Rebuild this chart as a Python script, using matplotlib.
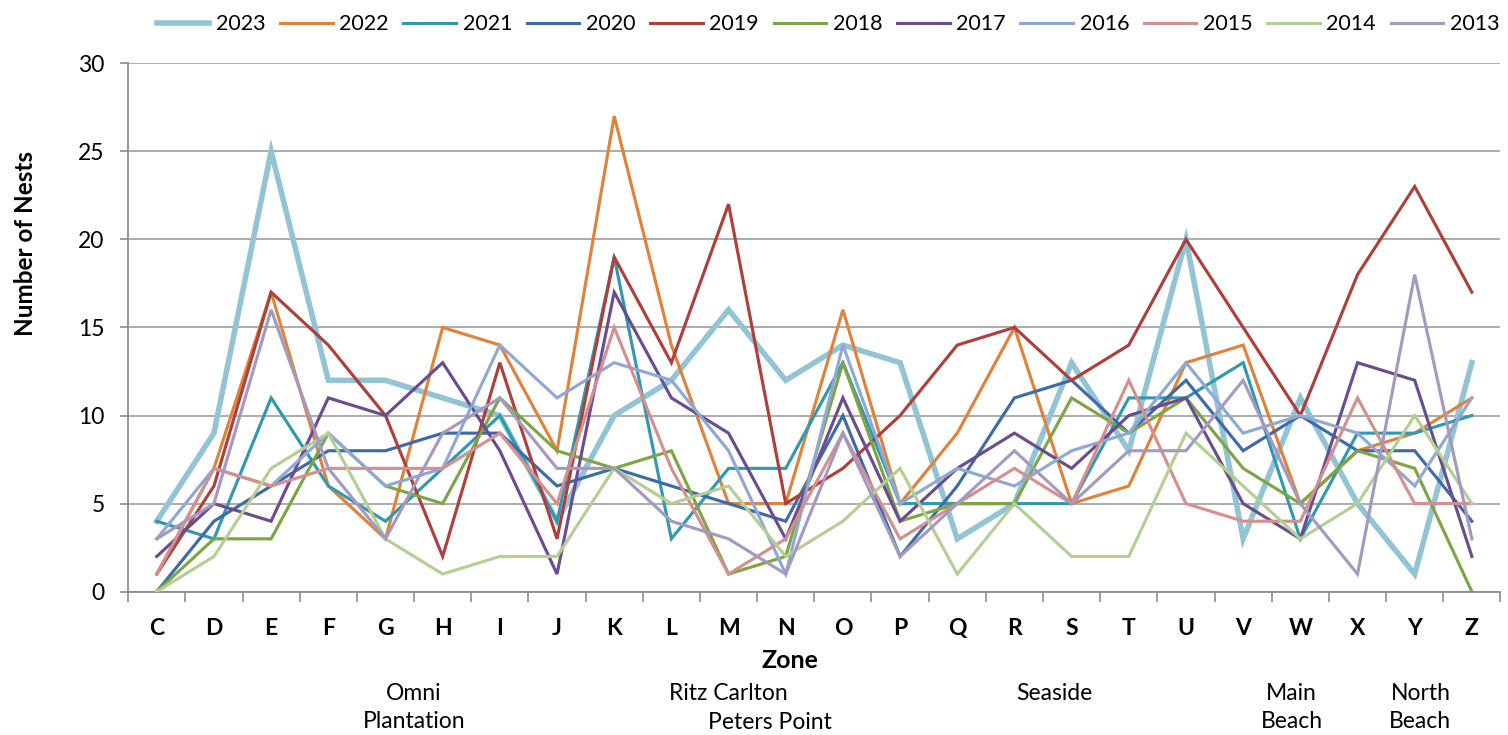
import matplotlib.pyplot as plt
import numpy as np

plt.rcParams['font.family'] = ['Lato', 'DejaVu Sans']

zones = ['C', 'D', 'E', 'F', 'G', 'H', 'I', 'J', 'K', 'L', 'M', 'N',
         'O', 'P', 'Q', 'R', 'S', 'T', 'U', 'V', 'W', 'X', 'Y', 'Z']

# nests per zone, one list per year
n2023 = [4, 9, 25, 12, 12, 11, 10, 4, 10, 12, 16, 12, 14, 13, 3, 5, 13, 8, 20, 3, 11, 5, 1, 13]
n2022 = [1, 7, 17, 6, 3, 15, 14, 8, 27, 14, 5, 5, 16, 5, 9, 15, 5, 6, 13, 14, 5, 8, 9, 11]
n2021 = [4, 3, 11, 6, 4, 7, 10, 4, 19, 3, 7, 7, 13, 5, 5, 5, 5, 11, 11, 13, 3, 9, 9, 10]
n2020 = [0, 4, 6, 8, 8, 9, 9, 6, 7, 6, 5, 4, 10, 2, 6, 11, 12, 9, 12, 8, 10, 8, 8, 4]
n2019 = [1, 6, 17, 14, 10, 2, 13, 3, 19, 13, 22, 5, 7, 10, 14, 15, 12, 14, 20, 15, 10, 18, 23, 17]
n2018 = [0, 3, 3, 9, 6, 5, 11, 8, 7, 8, 1, 2, 13, 4, 5, 5, 11, 9, 11, 7, 5, 8, 7, 0]
n2017 = [2, 5, 4, 11, 10, 13, 8, 1, 17, 11, 9, 3, 11, 4, 7, 9, 7, 10, 11, 5, 3, 13, 12, 2]
n2016 = [3, 7, 6, 9, 6, 7, 14, 11, 13, 12, 8, 1, 14, 5, 7, 6, 8, 9, 13, 9, 10, 9, 6, 11]
n2015 = [1, 7, 6, 7, 7, 7, 9, 5, 15, 7, 1, 3, 9, 3, 5, 7, 5, 12, 5, 4, 4, 11, 5, 5]
n2014 = [0, 2, 7, 9, 3, 1, 2, 2, 7, 5, 6, 2, 4, 7, 1, 5, 2, 2, 9, 6, 3, 5, 10, 5]
n2013 = [3, 5, 16, 7, 3, 9, 11, 7, 7, 4, 3, 1, 9, 2, 5, 8, 5, 8, 8, 12, 5, 1, 18, 3]

years = ['2023', '2022', '2021', '2020', '2019', '2018', '2017', '2016', '2015', '2014', '2013']
series = [n2023, n2022, n2021, n2020, n2019, n2018, n2017, n2016, n2015, n2014, n2013]
colors = ['#93C4D5', '#E0823A', '#3199AF', '#3C6BA8', '#AE3F3B', '#7FA444',
          '#6A4D90', '#8EA9D5', '#D58F8E', '#B4CF94', '#A499C0']

# area names under the zone letters
areas = ['Omni\nPlantation', 'Ritz Carlton', 'Peters Point', 'Seaside', 'Main\nBeach', 'North\nBeach']
area_pos = [4.5, 10.0, 10.72, 15.7, 19.85, 22.1]
area_row = [0, 0, 1, 0, 0, 0]

fig = plt.figure(figsize=(15.08, 7.35), dpi=100)
ax = fig.add_axes([0.085, 0.195, 0.910, 0.719])

x = np.arange(len(zones))
for i in range(len(series)):
    lw = 4.0 if i == 0 else 2.25
    ax.plot(x, series[i], color=colors[i], linewidth=lw, label=years[i],
            solid_joinstyle='miter', zorder=3 + i)

ax.set_xlim(-0.5, len(zones) - 0.5)
ax.set_ylim(0, 30)
ax.set_yticks(range(0, 31, 5))
ax.tick_params(axis='y', labelsize=16.5, length=6, width=1.2, color='#8C8C8C', pad=11)
ax.set_xticks(x)
ax.set_xticklabels(zones, fontweight='bold', fontsize=16.5)
ax.set_xticks(np.arange(-0.5, len(zones), 1), minor=True)
ax.tick_params(axis='x', which='major', length=0, pad=19)
ax.tick_params(axis='x', which='minor', length=7, width=1.2, color='#8C8C8C')
ax.grid(axis='y', color='#A6A6A6', linewidth=1.3)
ax.set_axisbelow(True)
for s in ['top', 'right']:
    ax.spines[s].set_visible(False)
for s in ['left', 'bottom']:
    ax.spines[s].set_color('#8C8C8C')
    ax.spines[s].set_linewidth(1.3)

fig.text(0.0166, 0.669, 'Number of Nests', rotation=90, ha='center', va='center',
         fontsize=17.5, fontweight='bold')
fig.text(0.524, 0.101, 'Zone', ha='center', va='center', fontsize=18, fontweight='bold')

for name, pos, row in zip(areas, area_pos, area_row):
    yy = -0.172 if row == 0 else -0.227
    ax.text(pos, yy, name, transform=ax.get_xaxis_transform(), ha='center', va='top',
            fontsize=16.5, linespacing=1.45)

fig.legend(loc='upper left', bbox_to_anchor=(0.091, 1.007), ncol=11, frameon=False,
           fontsize=15.5, handlelength=2.45, handletextpad=0.3, columnspacing=0.68)

fig.savefig('out.png', dpi=100)
